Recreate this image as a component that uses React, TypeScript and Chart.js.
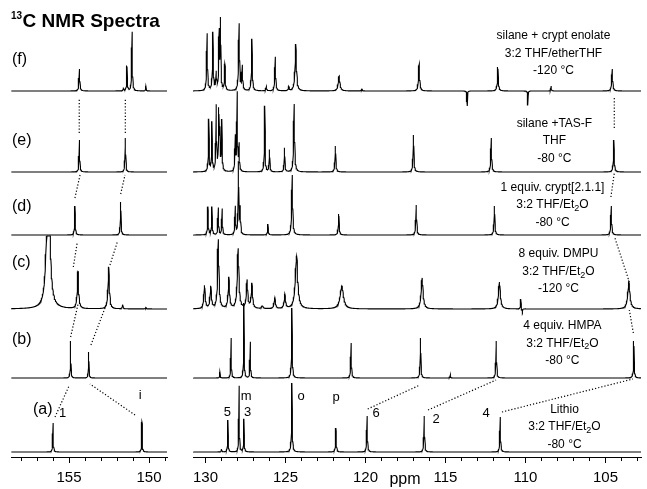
import React, { useEffect, useRef } from "react";
import { Chart, registerables } from "chart.js";
Chart.register(...registerables);

const FONT = "'Liberation Sans', Arial, Helvetica, sans-serif";

// ---------- data ----------
const spectrumLabels = ["(a)", "(b)", "(c)", "(d)", "(e)", "(f)"];
const spectrumOffsets = [5, 79, 148, 222, 285, 366];
const spectrumClip: (number | null)[] = [null, null, 73, null, null, null];

// peaks: [ppm, height, half-width (ppm)]
const peaksA = [
  [156.0, 29, 0.02], [150.44, 30, 0.02],
  [129.0, 3, 0.02], [128.6, 32, 0.02], [127.9, 66, 0.02], [127.6, 33, 0.02],
  [124.6, 69, 0.025], [121.85, 24, 0.025], [119.9, 36, 0.025], [116.33, 36, 0.025], [111.58, 35, 0.025],
];
const peaksB = [
  [154.9, 37, 0.02], [153.77, 26, 0.02],
  [129.1, 6, 0.02], [128.4, 40, 0.02], [127.6, 75, 0.02], [127.2, 36, 0.02],
  [124.6, 70, 0.025], [120.9, 35, 0.025], [116.56, 40, 0.025], [114.7, 3, 0.02],
  [111.83, 37, 0.025], [103.23, 37, 0.025],
];
const peaksC = [
  [156.3, 200, 0.095], [154.44, 37, 0.05], [152.52, 42, 0.05], [151.65, 4, 0.03], [150.2, 1.5, 0.03],
  [130.06, 23, 0.05], [129.67, 22, 0.05], [129.2, 69, 0.05], [128.54, 31, 0.05], [127.96, 60, 0.06],
  [127.4, 28, 0.05], [127.1, 25, 0.05], [126.45, 3, 0.05], [125.67, 11, 0.05], [125.04, 14, 0.05],
  [124.31, 53, 0.09], [121.48, 23, 0.12], [116.46, 31, 0.07], [111.63, 27, 0.07],
  [110.3, 10, 0.02], [110.2, -3, 0.02], [103.54, 27, 0.08],
];
const peaksD = [
  [154.63, 29, 0.025], [151.77, 33, 0.025],
  [129.85, 28, 0.025], [129.6, 28, 0.025], [129.2, 27, 0.025], [128.96, 26, 0.025],
  [128.14, 28, 0.025], [127.94, 72, 0.025], [127.83, 26, 0.025], [126.1, 11, 0.025],
  [124.58, 60, 0.035], [121.67, 21, 0.03], [116.83, 30, 0.03], [111.94, 29, 0.03], [104.64, 29, 0.03],
];
const peaksE = [
  [154.35, 32, 0.025], [151.48, 34, 0.025],
  [129.8, 52, 0.025], [129.6, 49, 0.025], [129.33, 65, 0.025], [129.17, 58, 0.025], [129.1, 36, 0.025],
  [128.98, 50, 0.025], [128.14, 34, 0.025], [128.02, 78, 0.025], [127.9, 26, 0.025],
  [126.3, 66, 0.025], [126.0, 22, 0.025], [125.06, 24, 0.025], [124.46, 68, 0.035],
  [121.88, 26, 0.03], [117.0, 37, 0.03], [112.14, 34, 0.03], [104.48, 32, 0.03],
];
const peaksF = [
  [154.35, 22, 0.03], [151.6, 3, 0.02], [151.38, 25, 0.025], [151.06, 59, 0.025], [150.2, 5, 0.02],
  [129.9, 57, 0.03], [129.54, 58, 0.03], [129.33, 17, 0.03], [129.15, 57, 0.025], [129.06, 69, 0.025],
  [128.79, 26, 0.03], [127.9, 67, 0.035], [127.7, 24, 0.03], [127.1, 52, 0.03], [126.2, 4, 0.03],
  [125.64, 34, 0.03], [124.8, 4, 0.03], [124.36, 47, 0.05], [121.65, 15, 0.06], [120.23, 2, 0.03],
  [116.65, 27, 0.04], [113.65, -15, 0.015], [111.73, 24, 0.035], [109.86, -14, 0.015],
  [108.4, 5, 0.02], [104.58, 22, 0.035],
];
const allPeaks = [peaksA, peaksB, peaksC, peaksD, peaksE, peaksF];

const leftRange = [148.875, 158.625];
const rightRange = [102.78, 130.78];
const leftTicks = [155, 150];
const rightTicks = [130, 125, 120, 115, 110, 105];

const conditionLines = [
  ["Lithio", "3:2 THF/Et_2O", "-80 °C"],
  ["4 equiv. HMPA", "3:2 THF/Et_2O", "-80 °C"],
  ["8 equiv. DMPU", "3:2 THF/Et_2O", "-120 °C"],
  ["1 equiv. crypt[2.1.1]", "3:2 THF/Et_2O", "-80 °C"],
  ["silane +TAS-F", "THF", "-80 °C"],
  ["silane + crypt enolate", "3:2 THF/etherTHF", "-120 °C"],
];
const conditionPos = [
  [107.56, 47.7], [107.69, 131.3], [107.94, 203], [108.31, 269.7], [108.19, 333.7], [108.25, 421.3],
];

const peakLabelText = ["1", "i", "5", "m", "3", "o", "p", "6", "2", "4"];
const peakLabelPos = [
  [155.4, 44], [150.55, 62], [128.64, 45], [127.46, 61], [127.36, 45],
  [124.02, 61], [121.83, 60], [119.33, 44], [115.58, 38], [112.46, 44],
];

const spectrumLabelPos = [
  [157.25, 47], [158.56, 117], [158.56, 194], [158.56, 250], [158.56, 316], [158.56, 397],
];

// dotted connectors: [ppm1, y1, ppm2, y2]
const leftConnectors = [
  [155.875, 40, 155.0, 71], [150.875, 42, 153.69, 73],
  [154.9, 120, 154.42, 154], [153.63, 112, 152.63, 154],
  [154.73, 190, 154.48, 215], [152.44, 192, 151.98, 215],
  [154.63, 259, 154.31, 282], [151.77, 263, 151.5, 282],
  [154.36, 324, 154.36, 359], [151.48, 324, 151.48, 359],
];
const rightConnectors = [
  [119.86, 48, 116.59, 72], [116.09, 47, 111.84, 77], [111.47, 45, 103.28, 78],
  [103.26, 124, 103.51, 147], [103.51, 175, 104.41, 219],
  [104.66, 260, 104.45, 284], [104.45, 329, 104.45, 360],
];

// ---------- helpers ----------
function buildSpectrum(peaks: number[][], offset: number, clip: number | null, range: number[]) {
  const step = 0.02;
  const xs: number[] = [];
  for (let x = range[0]; x <= range[1] + 1e-9; x += step) xs.push(x);
  for (const p of peaks) if (p[0] >= range[0] && p[0] <= range[1]) xs.push(p[0]);
  xs.sort((a, b) => a - b);
  return xs.map((x) => {
    let y = 0;
    for (const [c, h, w] of peaks) {
      const d = (x - c) / w;
      y += h / (1 + d * d);
    }
    if (clip != null) y = Math.min(y, clip);
    return { x, y: offset + y };
  });
}

function drawRich(ctx: CanvasRenderingContext2D, text: string, cx: number, cy: number, size: number) {
  const parts = text.split(/_(\d)/);
  const subSize = Math.round(size * 0.72);
  let total = 0;
  parts.forEach((p, i) => {
    ctx.font = `${i % 2 ? subSize : size}px ${FONT}`;
    total += ctx.measureText(p).width;
  });
  let x = cx - total / 2;
  ctx.textAlign = "left";
  ctx.textBaseline = "middle";
  parts.forEach((p, i) => {
    const sub = i % 2 === 1;
    ctx.font = `${sub ? subSize : size}px ${FONT}`;
    ctx.fillText(p, x, cy + (sub ? size * 0.3 : 0));
    x += ctx.measureText(p).width;
  });
}

function makeConfig(panel: "left" | "right") {
  const isLeft = panel === "left";
  const range = isLeft ? leftRange : rightRange;
  const ticks = isLeft ? leftTicks : rightTicks;
  const connectors = isLeft ? leftConnectors : rightConnectors;
  const inRange = (v: number) => v >= range[0] && v <= range[1];

  const datasets = allPeaks.map((peaks, i) => ({
    label: spectrumLabels[i],
    data: buildSpectrum(peaks, spectrumOffsets[i], spectrumClip[i], range),
    borderColor: "#000",
    borderWidth: 1.1,
    pointRadius: 0,
    fill: false,
    tension: 0,
  }));

  const annot = {
    id: "annot" + panel,
    afterDatasetsDraw(chart: any) {
      const ctx: CanvasRenderingContext2D = chart.ctx;
      const xs = chart.scales.x;
      const ys = chart.scales.y;
      const bottom = chart.chartArea.bottom;
      ctx.save();
      // minor ticks
      ctx.strokeStyle = "#000";
      ctx.lineWidth = 1;
      ctx.beginPath();
      for (let v = Math.ceil(range[0]); v <= Math.floor(range[1]); v++) {
        if (v % 5 === 0) continue;
        const px = Math.round(xs.getPixelForValue(v)) + 0.5;
        ctx.moveTo(px, bottom);
        ctx.lineTo(px, bottom + 4);
      }
      ctx.stroke();
      // dotted connectors
      ctx.setLineDash([1.2, 2]);
      ctx.lineWidth = 1.2;
      ctx.beginPath();
      for (const [a, b, c, d] of connectors) {
        ctx.moveTo(xs.getPixelForValue(a), ys.getPixelForValue(b));
        ctx.lineTo(xs.getPixelForValue(c), ys.getPixelForValue(d));
      }
      ctx.stroke();
      ctx.setLineDash([]);
      ctx.fillStyle = "#000";
      // peak labels
      ctx.font = `13px ${FONT}`;
      ctx.textAlign = "center";
      ctx.textBaseline = "middle";
      peakLabelText.forEach((t, i) => {
        const [p, y] = peakLabelPos[i];
        if (inRange(p)) ctx.fillText(t, xs.getPixelForValue(p), ys.getPixelForValue(y));
      });
      if (isLeft) {
        // spectrum labels
        ctx.font = `16px ${FONT}`;
        ctx.textAlign = "left";
        spectrumLabels.forEach((t, i) => {
          const [p, y] = spectrumLabelPos[i];
          ctx.fillText(t, xs.getPixelForValue(p), ys.getPixelForValue(y));
        });
        // title
        ctx.textBaseline = "alphabetic";
        ctx.font = `bold 10px ${FONT}`;
        ctx.fillText("13", 11, 19);
        const w = ctx.measureText("13").width;
        ctx.font = `bold 19px ${FONT}`;
        ctx.fillText("C NMR Spectra", 11 + w + 0.5, 27);
      } else {
        conditionLines.forEach((lines, i) => {
          const [p, y] = conditionPos[i];
          lines.forEach((t, j) => {
            drawRich(ctx, t, xs.getPixelForValue(p), ys.getPixelForValue(y - j * 17.5), 12);
          });
        });
        ctx.font = `16px ${FONT}`;
        ctx.textAlign = "center";
        ctx.textBaseline = "middle";
        ctx.fillText("ppm", xs.getPixelForValue(117.53), bottom + 23);
      }
      ctx.restore();
    },
  };

  return {
    type: "line" as const,
    data: { datasets },
    plugins: [annot],
    options: {
      animation: false as const,
      responsive: false,
      parsing: false as const,
      normalized: true,
      events: [],
      layout: {
        padding: isLeft
          ? { left: 11, right: 13, top: 0, bottom: 0 }
          : { left: 13, right: 6, top: 0, bottom: 0 },
      },
      plugins: { legend: { display: false }, tooltip: { enabled: false } },
      scales: {
        x: {
          type: "linear" as const,
          reverse: true,
          min: range[0],
          max: range[1],
          afterBuildTicks: (s: any) => {
            s.ticks = ticks.map((v) => ({ value: v }));
          },
          afterFit: (s: any) => {
            s.height = 32;
          },
          ticks: {
            color: "#000",
            font: { family: FONT, size: 15 },
            padding: 6,
            maxRotation: 0,
            autoSkip: false,
            callback: (v: any) => String(v),
          },
          grid: { drawOnChartArea: false, drawTicks: true, tickLength: 6, color: "#000", lineWidth: 1 },
          border: { display: true, color: "#000", width: 1 },
        },
        y: { type: "linear" as const, display: false, min: 0, max: 457 },
      },
    },
  };
}

export default function App() {
  const leftRef = useRef<HTMLCanvasElement>(null);
  const rightRef = useRef<HTMLCanvasElement>(null);
  useEffect(() => {
    const l = new Chart(leftRef.current as HTMLCanvasElement, makeConfig("left") as any);
    const r = new Chart(rightRef.current as HTMLCanvasElement, makeConfig("right") as any);
    return () => {
      l.destroy();
      r.destroy();
    };
  }, []);
  return (
    <div style={{ position: "absolute", left: 0, top: 0, width: 647, height: 489, background: "#fff" }}>
      <canvas ref={leftRef} width={180} height={489}
        style={{ position: "absolute", left: 0, top: 0, width: 180, height: 489 }} />
      <canvas ref={rightRef} width={467} height={489}
        style={{ position: "absolute", left: 180, top: 0, width: 467, height: 489 }} />
    </div>
  );
}
